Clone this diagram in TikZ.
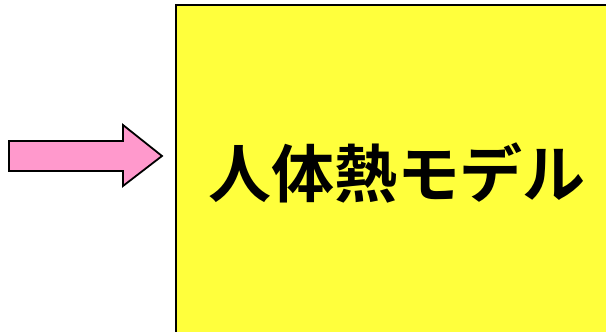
\documentclass[tikz,border=0pt]{standalone}
\usepackage{fontspec}
\newfontfamily\cjk{Noto Sans CJK JP}[BoldFont={* Bold}]
\usetikzlibrary{positioning}
\definecolor{boxyellow}{RGB}{255,255,60}
\definecolor{arrowpink}{RGB}{255,153,204}
\tikzstyle{model} = [draw, line width=1.6pt, rectangle, fill=boxyellow, minimum width=442pt, minimum height=336pt, inner sep=0pt, font=\cjk\bfseries\fontsize{63}{70}\selectfont]
\tikzstyle{pointer} = [draw, line width=1.8pt, fill=arrowpink, line join=miter]

\begin{document}
\begin{tikzpicture}[x=1pt, y=1pt]
    \useasboundingbox (0,0) rectangle (606,332);
    \node (model) [model] at (397,159) {\raisebox{1.5pt}{人体熱モデル}};

    % Arrow into the model.
    \coordinate (tail) at (9,176);
    \coordinate (tip) at (162,176);
    \draw [pointer] ([yshift=15pt]tail) -- ([xshift=-39pt, yshift=15pt]tip)
        -- ([xshift=-39pt, yshift=31pt]tip) -- (tip)
        -- ([xshift=-39pt, yshift=-30pt]tip) -- ([xshift=-39pt, yshift=-15pt]tip)
        -- ([yshift=-15pt]tail) -- cycle;
\end{tikzpicture}
\end{document}
